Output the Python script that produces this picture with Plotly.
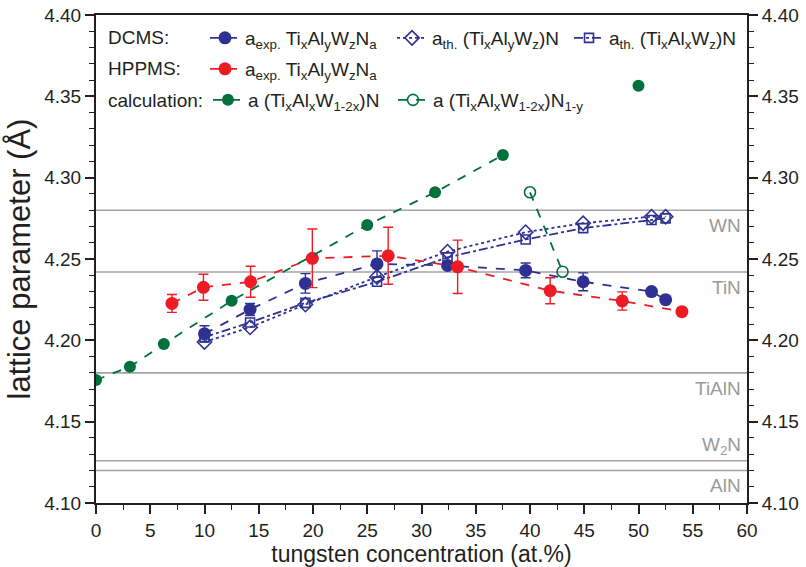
import plotly.graph_objects as go

# ---------------- data ----------------
dcms_w = [10.0, 14.2, 19.3, 25.9, 32.4, 39.6, 44.9, 51.2, 52.5]
dcms_a_exp = [4.204, 4.219, 4.235, 4.247, 4.246, 4.243, 4.236, 4.230, 4.225]
dcms_a_err = [0.005, 0.0037, 0.006, 0.008, 0.002, 0.0045, 0.0055, 0.0, 0.0]
dcms_a_th_y = [4.199, 4.208, 4.222, 4.239, 4.2545, 4.2665, 4.272, 4.276, 4.276]
dcms_a_th_x = [4.202, 4.211, 4.223, 4.236, 4.251, 4.262, 4.269, 4.274, 4.275]

hppms_w = [7.0, 9.9, 14.25, 19.94, 26.93, 33.33, 41.86, 48.5, 54.0]
hppms_a_exp = [4.2227, 4.2326, 4.236, 4.2504, 4.252, 4.2452, 4.2305, 4.2242, 4.2176]
hppms_a_err = [0.0055, 0.008, 0.0095, 0.018, 0.0175, 0.0164, 0.008, 0.0056, 0.002]

calc_w = [0, 3.125, 6.25, 12.5, 25, 31.25, 37.5]
calc_a = [4.1756, 4.1838, 4.1977, 4.2243, 4.2709, 4.291, 4.3139]
calc_extra_w = [50]
calc_extra_a = [4.3565]
calc_vac_w = [40, 43]
calc_vac_a = [4.291, 4.2422]

ref_names = ["WN", "TiN", "TiAlN", "W<sub>2</sub>N", "AlN"]
ref_values = [4.28, 4.242, 4.18, 4.126, 4.12]
ref_label_below = [True, True, True, False, True]

x_range = [0, 60]
y_range = [4.10, 4.40]
x_ticks = list(range(0, 61, 5))
y_ticks = [4.10, 4.15, 4.20, 4.25, 4.30, 4.35, 4.40]

# ---------------- styles ----------------
BLUE = "#2E3192"
RED = "#ED1C24"
GREEN = "#00703C"
GRAY = "#A3A3A3"
AXC = "#231F20"
FONT = "Liberation Sans, Arial, sans-serif"

W, H = 806, 567
ML, MR, MT, MB = 96, 59, 15, 64
PX_W = W - ML - MR
PX_H = H - MT - MB


def px_x(px):
    return (px - ML) / PX_W


def px_y(py):
    return (H - MB - py) / PX_H


fig = go.Figure()

# reference lines (left axis, drawn beneath the data)
for v in ref_values:
    fig.add_trace(go.Scatter(x=x_range, y=[v, v], mode="lines", yaxis="y",
                             line=dict(color=GRAY, width=1.6), showlegend=False,
                             hoverinfo="skip"))
for name, v, below in zip(ref_names, ref_values, ref_label_below):
    fig.add_annotation(x=1, xref="paper", y=v, yref="y", text=name, showarrow=False,
                       xanchor="right", yanchor="top" if below else "bottom",
                       xshift=-4, yshift=-3 if below else 1,
                       font=dict(family=FONT, size=19, color="#999999"))

# DCMS
fig.add_trace(go.Scatter(
    x=dcms_w, y=dcms_a_th_y, mode="lines+markers", yaxis="y2",
    name="a<sub>th.</sub> (Ti<sub>x</sub>Al<sub>y</sub>W<sub>z</sub>)N",
    line=dict(color=BLUE, width=1.8, dash="dot"),
    marker=dict(symbol="diamond-open", size=11, color=BLUE, line=dict(width=1.6)),
    legend="legend4"))
fig.add_trace(go.Scatter(
    x=dcms_w, y=dcms_a_th_x, mode="lines+markers", yaxis="y2",
    name="a<sub>th.</sub> (Ti<sub>x</sub>Al<sub>x</sub>W<sub>z</sub>)N",
    line=dict(color=BLUE, width=1.8, dash="dashdot"),
    marker=dict(symbol="square-open", size=9, color=BLUE, line=dict(width=1.6)),
    legend="legend5"))
fig.add_trace(go.Scatter(
    x=dcms_w, y=dcms_a_exp, mode="lines+markers", yaxis="y2",
    name="a<sub>exp.</sub> Ti<sub>x</sub>Al<sub>y</sub>W<sub>z</sub>N<sub>a</sub>",
    line=dict(color=BLUE, width=1.8, dash="dash"),
    marker=dict(symbol="circle", size=13, color=BLUE),
    error_y=dict(type="data", array=dcms_a_err, color=BLUE, thickness=1.4, width=5),
    legend="legend"))

# HPPMS
fig.add_trace(go.Scatter(
    x=hppms_w, y=hppms_a_exp, mode="lines+markers", yaxis="y2",
    name="a<sub>exp.</sub> Ti<sub>x</sub>Al<sub>y</sub>W<sub>z</sub>N<sub>a</sub>",
    line=dict(color=RED, width=1.8, dash="dash"),
    marker=dict(symbol="circle", size=13, color=RED),
    error_y=dict(type="data", array=hppms_a_err, color=RED, thickness=1.4, width=5),
    legend="legend2"))

# calculation
fig.add_trace(go.Scatter(
    x=calc_w, y=calc_a, mode="lines+markers", yaxis="y2",
    name="a (Ti<sub>x</sub>Al<sub>x</sub>W<sub>1-2x</sub>)N",
    line=dict(color=GREEN, width=1.8, dash="dash"),
    marker=dict(symbol="circle", size=12, color=GREEN),
    legend="legend3"))
fig.add_trace(go.Scatter(
    x=calc_extra_w, y=calc_extra_a, mode="markers", yaxis="y2",
    name="a (Ti<sub>x</sub>Al<sub>x</sub>W<sub>1-2x</sub>)N",
    marker=dict(symbol="circle", size=12, color=GREEN),
    showlegend=False, legend="legend3"))
fig.add_trace(go.Scatter(
    x=calc_vac_w, y=calc_vac_a, mode="lines+markers", yaxis="y2",
    name="a (Ti<sub>x</sub>Al<sub>x</sub>W<sub>1-2x</sub>)N<sub>1-y</sub>",
    line=dict(color=GREEN, width=1.8, dash="dash"),
    marker=dict(symbol="circle-open", size=11, color=GREEN, line=dict(width=1.6)),
    legend="legend6"))

# legend row titles
row_y = [px_y(38), px_y(69), px_y(100)]
for txt, yy in zip(["DCMS:", "HPPMS:", "calculation:"], row_y):
    fig.add_annotation(x=px_x(106), xref="paper", y=yy, yref="paper", text=txt,
                       showarrow=False, xanchor="left", yanchor="middle",
                       font=dict(family=FONT, size=19, color=AXC))

leg_common = dict(orientation="h", xanchor="left", yanchor="middle",
                  bgcolor="rgba(0,0,0,0)", font=dict(family=FONT, size=19, color=AXC),
                  itemwidth=30)

axis_common = dict(showline=True, linewidth=2, linecolor=AXC, ticks="outside",
                   ticklen=9, tickwidth=1.6, tickcolor=AXC, showgrid=False, zeroline=False,
                   automargin=False, ticklabeloverflow="allow",
                   tickfont=dict(family=FONT, size=19, color=AXC))

fig.update_layout(
    width=W, height=H,
    margin=dict(l=ML, r=MR, t=MT, b=MB),
    paper_bgcolor="white", plot_bgcolor="white",
    font=dict(family=FONT, color=AXC),
    legend=dict(x=px_x(205), y=row_y[0], **leg_common),
    legend4=dict(x=px_x(392), y=row_y[0], **leg_common),
    legend5=dict(x=px_x(569), y=row_y[0], **leg_common),
    legend2=dict(x=px_x(205), y=row_y[1], **leg_common),
    legend3=dict(x=px_x(208), y=row_y[2], **leg_common),
    legend6=dict(x=px_x(393), y=row_y[2], **leg_common),
    xaxis=dict(range=x_range, tickvals=x_ticks, mirror=True,
               minor=dict(dtick=2.5, ticklen=5, tickwidth=1.4, ticks="outside", tickcolor=AXC),
               title=dict(text="tungsten concentration (at.%)", font=dict(family=FONT, size=23), standoff=0),
               **axis_common),
    yaxis=dict(range=y_range, tickvals=y_ticks, tickformat=".2f",
               minor=dict(dtick=0.01, ticklen=5, tickwidth=1.4, ticks="outside", tickcolor=AXC),
               title=dict(text="lattice parameter (Å)", font=dict(family=FONT, size=31), standoff=4),
               **axis_common),
    yaxis2=dict(range=y_range, tickvals=y_ticks, tickformat=".2f", overlaying="y",
                matches="y", side="right", anchor="x",
                minor=dict(dtick=0.01, ticklen=5, tickwidth=1.4, ticks="outside", tickcolor=AXC),
                **axis_common),
    showlegend=True,
)

fig.write_html("out.html", config={"displayModeBar": False},
               post_script="document.body.style.margin='0';")
